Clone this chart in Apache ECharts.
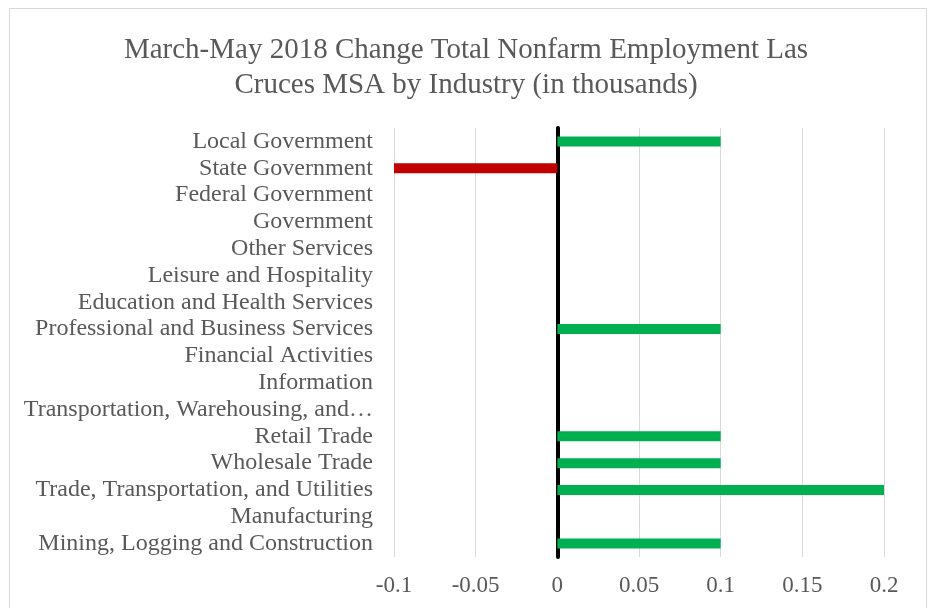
<!DOCTYPE html>
<html>
<head>
<meta charset="utf-8">
<script src="https://cdn.jsdelivr.net/npm/echarts@6/dist/echarts.min.js"></script>
<style>
html,body{margin:0;padding:0;background:#fff;}
#chart{width:932px;height:608px;}
</style>
</head>
<body>
<div id="chart"></div>
<script>
// Categories listed top to bottom as shown
var categories = [
  "Local Government",
  "State Government",
  "Federal Government",
  "Government",
  "Other Services",
  "Leisure and Hospitality",
  "Education and Health Services",
  "Professional and Business Services",
  "Financial Activities",
  "Information",
  "Transportation, Warehousing, and Utilities",
  "Retail Trade",
  "Wholesale Trade",
  "Trade, Transportation, and Utilities",
  "Manufacturing",
  "Mining, Logging and Construction"
];
var changeValues = [0.1, -0.1, 0, 0, 0, 0, 0, 0.1, 0, 0, 0, 0.1, 0.1, 0.2, 0, 0.1];
var xTickMin = -0.1, xTickMax = 0.2, xTickStep = 0.05;
var titleText = "March-May 2018 Change Total Nonfarm Employment Las\nCruces MSA by Industry (in thousands)";

var chart = echarts.init(document.getElementById('chart'), null, {renderer: 'canvas'});
var serif = '"Liberation Serif", "Times New Roman", serif';
chart.setOption({
  animation: false,
  backgroundColor: '#ffffff',
  title: {
    text: titleText,
    left: 'center',
    top: 28,
    textStyle: {fontFamily: serif, fontSize: 29, fontWeight: 'normal', color: '#595959', lineHeight: 35}
  },
  graphic: [{
    type: 'rect',
    shape: {x: 9.5, y: 8.5, width: 917, height: 620},
    style: {fill: 'none', stroke: '#d9d9d9', lineWidth: 1},
    silent: true
  }],
  grid: {left: 394, right: 48, top: 128, bottom: 51, containLabel: false},
  xAxis: {
    type: 'value',
    min: xTickMin, max: xTickMax, interval: xTickStep,
    axisLine: {show: false},
    axisTick: {show: false},
    splitLine: {show: true, lineStyle: {color: '#d9d9d9', width: 1}},
    axisLabel: {fontFamily: serif, fontSize: 23, color: '#595959', margin: 17,
      formatter: function (v) { return String(Math.round(v * 100) / 100); }}
  },
  yAxis: {
    type: 'category',
    data: categories,
    inverse: true,
    axisTick: {show: false},
    axisLine: {show: true, onZero: true, lineStyle: {color: '#000000', width: 4}},
    axisLabel: {fontFamily: serif, fontSize: 24, color: '#595959', margin: 21,
      interval: 0, hideOverlap: false,
      width: 360, overflow: 'truncate', ellipsis: '…'}
  },
  series: [{
    type: 'bar',
    data: changeValues,
    barWidth: 10,
    itemStyle: {
      color: function (p) { return p.value < 0 ? '#c00000' : '#00b050'; }
    }
  }]
});
</script>
</body>
</html>
